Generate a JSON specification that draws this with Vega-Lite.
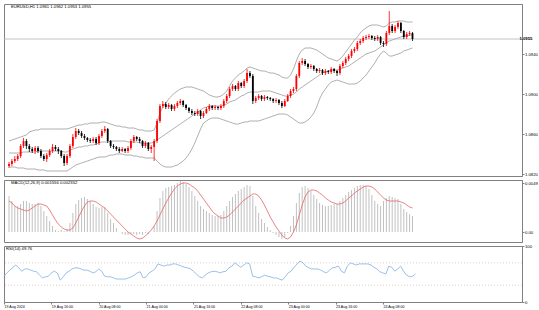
{
  "$schema": "https://vega.github.io/schema/vega-lite/v6.json",
  "padding": {"left": 1, "top": 3, "right": 0, "bottom": 0},
  "background": "#ffffff",
  "bounds": "flush",
  "config": {
    "font": "Liberation Sans",
    "view": {"stroke": "#808080", "strokeWidth": 1},
    "axis": {"grid": false, "domainColor": "#808080", "tickColor": "#808080", "tickSize": 2, "labelFontSize": 4.2, "labelColor": "#000000", "labelPadding": 0.5, "labelOverlap": false, "labelBound": false, "title": null}
  },
  "spacing": 4,
  "datasets": {
    "d": [
      {"i":0,"o":1.0828,"h":1.0832,"l":1.0826,"c":1.0830,"u":1.0853,"a":1.0841,"b":1.0827,"m":0.0036,"s":0.0031,"r":46},
      {"i":1,"o":1.0830,"h":1.0835,"l":1.0828,"c":1.0833,"u":1.0854,"a":1.0841,"b":1.0827,"m":0.0031,"s":0.0029,"r":52},
      {"i":2,"o":1.0833,"h":1.0838,"l":1.0831,"c":1.0835,"u":1.0855,"a":1.0841,"b":1.0827,"m":0.0026,"s":0.0026,"r":57},
      {"i":3,"o":1.0835,"h":1.0840,"l":1.0833,"c":1.0838,"u":1.0856,"a":1.0841,"b":1.0826,"m":0.0026,"s":0.0024,"r":62},
      {"i":4,"o":1.0838,"h":1.0850,"l":1.0836,"c":1.0848,"u":1.0857,"a":1.0841,"b":1.0826,"m":0.0028,"s":0.0023,"r":66},
      {"i":5,"o":1.0848,"h":1.0856,"l":1.0846,"c":1.0853,"u":1.0858,"a":1.0842,"b":1.0826,"m":0.0031,"s":0.0022,"r":61},
      {"i":6,"o":1.0853,"h":1.0855,"l":1.0845,"c":1.0848,"u":1.0859,"a":1.0842,"b":1.0825,"m":0.0031,"s":0.0021,"r":55},
      {"i":7,"o":1.0848,"h":1.0850,"l":1.0842,"c":1.0845,"u":1.0862,"a":1.0842,"b":1.0825,"m":0.0029,"s":0.0022,"r":59},
      {"i":8,"o":1.0845,"h":1.0847,"l":1.0841,"c":1.0843,"u":1.0863,"a":1.0842,"b":1.0825,"m":0.0028,"s":0.0024,"r":59},
      {"i":9,"o":1.0843,"h":1.0848,"l":1.0840,"c":1.0846,"u":1.0864,"a":1.0842,"b":1.0825,"m":0.0028,"s":0.0026,"r":57},
      {"i":10,"o":1.0846,"h":1.0848,"l":1.0841,"c":1.0843,"u":1.0864,"a":1.0843,"b":1.0824,"m":0.0029,"s":0.0028,"r":55},
      {"i":11,"o":1.0843,"h":1.0845,"l":1.0836,"c":1.0838,"u":1.0865,"a":1.0843,"b":1.0824,"m":0.0026,"s":0.0028,"r":54},
      {"i":12,"o":1.0838,"h":1.0840,"l":1.0833,"c":1.0835,"u":1.0865,"a":1.0843,"b":1.0824,"m":0.0021,"s":0.0027,"r":48},
      {"i":13,"o":1.0835,"h":1.0841,"l":1.0832,"c":1.0839,"u":1.0865,"a":1.0843,"b":1.0823,"m":0.0016,"s":0.0026,"r":43},
      {"i":14,"o":1.0839,"h":1.0845,"l":1.0837,"c":1.0843,"u":1.0865,"a":1.0843,"b":1.0823,"m":0.0011,"s":0.0022,"r":45},
      {"i":15,"o":1.0843,"h":1.0850,"l":1.0841,"c":1.0847,"u":1.0865,"a":1.0843,"b":1.0823,"m":0.0006,"s":0.0017,"r":46},
      {"i":16,"o":1.0847,"h":1.0849,"l":1.0843,"c":1.0845,"u":1.0865,"a":1.0843,"b":1.0823,"m":0.0002,"s":0.0012,"r":52},
      {"i":17,"o":1.0845,"h":1.0847,"l":1.0840,"c":1.0843,"u":1.0865,"a":1.0843,"b":1.0823,"m":0.0001,"s":0.0008,"r":55},
      {"i":18,"o":1.0843,"h":1.0844,"l":1.0836,"c":1.0838,"u":1.0865,"a":1.0843,"b":1.0823,"m":0.0002,"s":0.0005,"r":52},
      {"i":19,"o":1.0838,"h":1.0840,"l":1.0828,"c":1.0831,"u":1.0865,"a":1.0842,"b":1.0823,"m":0.0001,"s":0.0003,"r":39},
      {"i":20,"o":1.0831,"h":1.0840,"l":1.0829,"c":1.0838,"u":1.0865,"a":1.0842,"b":1.0823,"m":0.0003,"s":0.0002,"r":45},
      {"i":21,"o":1.0838,"h":1.0850,"l":1.0836,"c":1.0848,"u":1.0866,"a":1.0844,"b":1.0825,"m":0.0009,"s":0.0002,"r":52},
      {"i":22,"o":1.0848,"h":1.0860,"l":1.0846,"c":1.0857,"u":1.0867,"a":1.0845,"b":1.0827,"m":0.0019,"s":0.0004,"r":55},
      {"i":23,"o":1.0857,"h":1.0866,"l":1.0855,"c":1.0863,"u":1.0868,"a":1.0846,"b":1.0829,"m":0.0028,"s":0.0009,"r":59},
      {"i":24,"o":1.0863,"h":1.0865,"l":1.0859,"c":1.0861,"u":1.0869,"a":1.0847,"b":1.0830,"m":0.0032,"s":0.0015,"r":61},
      {"i":25,"o":1.0861,"h":1.0863,"l":1.0856,"c":1.0858,"u":1.0869,"a":1.0847,"b":1.0831,"m":0.0034,"s":0.0021,"r":61},
      {"i":26,"o":1.0858,"h":1.0860,"l":1.0854,"c":1.0856,"u":1.0870,"a":1.0848,"b":1.0832,"m":0.0035,"s":0.0026,"r":59},
      {"i":27,"o":1.0856,"h":1.0857,"l":1.0852,"c":1.0854,"u":1.0870,"a":1.0848,"b":1.0833,"m":0.0033,"s":0.0030,"r":57},
      {"i":28,"o":1.0854,"h":1.0856,"l":1.0851,"c":1.0853,"u":1.0871,"a":1.0849,"b":1.0834,"m":0.0031,"s":0.0031,"r":57},
      {"i":29,"o":1.0853,"h":1.0857,"l":1.0851,"c":1.0855,"u":1.0871,"a":1.0849,"b":1.0835,"m":0.0028,"s":0.0031,"r":55},
      {"i":30,"o":1.0855,"h":1.0857,"l":1.0849,"c":1.0851,"u":1.0871,"a":1.0850,"b":1.0836,"m":0.0025,"s":0.0030,"r":52},
      {"i":31,"o":1.0851,"h":1.0860,"l":1.0849,"c":1.0858,"u":1.0871,"a":1.0851,"b":1.0837,"m":0.0024,"s":0.0028,"r":54},
      {"i":32,"o":1.0858,"h":1.0865,"l":1.0856,"c":1.0863,"u":1.0872,"a":1.0852,"b":1.0837,"m":0.0025,"s":0.0026,"r":59},
      {"i":33,"o":1.0863,"h":1.0868,"l":1.0861,"c":1.0865,"u":1.0872,"a":1.0852,"b":1.0837,"m":0.0025,"s":0.0024,"r":55},
      {"i":34,"o":1.0865,"h":1.0866,"l":1.0851,"c":1.0853,"u":1.0871,"a":1.0852,"b":1.0838,"m":0.0019,"s":0.0021,"r":46},
      {"i":35,"o":1.0853,"h":1.0854,"l":1.0846,"c":1.0848,"u":1.0870,"a":1.0853,"b":1.0839,"m":0.0013,"s":0.0018,"r":45},
      {"i":36,"o":1.0848,"h":1.0850,"l":1.0845,"c":1.0847,"u":1.0869,"a":1.0853,"b":1.0839,"m":0.0009,"s":0.0015,"r":45},
      {"i":37,"o":1.0847,"h":1.0848,"l":1.0843,"c":1.0845,"u":1.0868,"a":1.0853,"b":1.0840,"m":0.0004,"s":0.0012,"r":43},
      {"i":38,"o":1.0845,"h":1.0847,"l":1.0841,"c":1.0843,"u":1.0868,"a":1.0853,"b":1.0840,"m":0.0000,"s":0.0009,"r":41},
      {"i":39,"o":1.0843,"h":1.0847,"l":1.0842,"c":1.0845,"u":1.0867,"a":1.0853,"b":1.0840,"m":-0.0002,"s":0.0006,"r":41},
      {"i":40,"o":1.0845,"h":1.0846,"l":1.0841,"c":1.0843,"u":1.0867,"a":1.0853,"b":1.0839,"m":-0.0003,"s":0.0003,"r":41},
      {"i":41,"o":1.0843,"h":1.0848,"l":1.0841,"c":1.0846,"u":1.0866,"a":1.0852,"b":1.0839,"m":-0.0003,"s":0.0000,"r":41},
      {"i":42,"o":1.0846,"h":1.0855,"l":1.0844,"c":1.0853,"u":1.0866,"a":1.0852,"b":1.0839,"m":-0.0002,"s":-0.0002,"r":43},
      {"i":43,"o":1.0853,"h":1.0859,"l":1.0851,"c":1.0857,"u":1.0866,"a":1.0852,"b":1.0838,"m":-0.0002,"s":-0.0004,"r":45},
      {"i":44,"o":1.0857,"h":1.0858,"l":1.0853,"c":1.0855,"u":1.0865,"a":1.0852,"b":1.0838,"m":-0.0003,"s":-0.0006,"r":48},
      {"i":45,"o":1.0855,"h":1.0857,"l":1.0851,"c":1.0853,"u":1.0864,"a":1.0851,"b":1.0837,"m":-0.0002,"s":-0.0007,"r":52},
      {"i":46,"o":1.0853,"h":1.0854,"l":1.0846,"c":1.0848,"u":1.0864,"a":1.0851,"b":1.0837,"m":-0.0003,"s":-0.0006,"r":54},
      {"i":47,"o":1.0848,"h":1.0853,"l":1.0846,"c":1.0851,"u":1.0863,"a":1.0851,"b":1.0836,"m":-0.0001,"s":-0.0004,"r":43},
      {"i":48,"o":1.0851,"h":1.0852,"l":1.0843,"c":1.0845,"u":1.0863,"a":1.0851,"b":1.0836,"m":-0.0002,"s":-0.0001,"r":45},
      {"i":49,"o":1.0845,"h":1.0849,"l":1.0841,"c":1.0847,"u":1.0863,"a":1.0851,"b":1.0836,"m":0.0000,"s":0.0002,"r":52},
      {"i":50,"o":1.0847,"h":1.0855,"l":1.0833,"c":1.0853,"u":1.0864,"a":1.0852,"b":1.0836,"m":0.0006,"s":0.0006,"r":55},
      {"i":51,"o":1.0853,"h":1.0875,"l":1.0851,"c":1.0873,"u":1.0871,"a":1.0854,"b":1.0833,"m":0.0021,"s":0.0011,"r":59},
      {"i":52,"o":1.0873,"h":1.0890,"l":1.0871,"c":1.0888,"u":1.0881,"a":1.0856,"b":1.0830,"m":0.0034,"s":0.0017,"r":68},
      {"i":53,"o":1.0888,"h":1.0893,"l":1.0886,"c":1.0890,"u":1.0887,"a":1.0858,"b":1.0828,"m":0.0041,"s":0.0023,"r":66},
      {"i":54,"o":1.0890,"h":1.0892,"l":1.0885,"c":1.0887,"u":1.0891,"a":1.0860,"b":1.0827,"m":0.0044,"s":0.0029,"r":64},
      {"i":55,"o":1.0887,"h":1.0891,"l":1.0885,"c":1.0889,"u":1.0895,"a":1.0862,"b":1.0827,"m":0.0045,"s":0.0034,"r":66},
      {"i":56,"o":1.0889,"h":1.0890,"l":1.0883,"c":1.0885,"u":1.0898,"a":1.0864,"b":1.0827,"m":0.0046,"s":0.0039,"r":66},
      {"i":57,"o":1.0885,"h":1.0890,"l":1.0883,"c":1.0888,"u":1.0901,"a":1.0866,"b":1.0828,"m":0.0047,"s":0.0043,"r":68},
      {"i":58,"o":1.0888,"h":1.0893,"l":1.0886,"c":1.0891,"u":1.0903,"a":1.0868,"b":1.0829,"m":0.0049,"s":0.0046,"r":68},
      {"i":59,"o":1.0891,"h":1.0895,"l":1.0889,"c":1.0893,"u":1.0905,"a":1.0870,"b":1.0831,"m":0.0051,"s":0.0048,"r":66},
      {"i":60,"o":1.0893,"h":1.0894,"l":1.0887,"c":1.0889,"u":1.0906,"a":1.0872,"b":1.0833,"m":0.0050,"s":0.0049,"r":64},
      {"i":61,"o":1.0889,"h":1.0890,"l":1.0884,"c":1.0886,"u":1.0907,"a":1.0874,"b":1.0836,"m":0.0048,"s":0.0049,"r":62},
      {"i":62,"o":1.0886,"h":1.0887,"l":1.0881,"c":1.0883,"u":1.0907,"a":1.0876,"b":1.0840,"m":0.0045,"s":0.0048,"r":61},
      {"i":63,"o":1.0883,"h":1.0885,"l":1.0879,"c":1.0881,"u":1.0907,"a":1.0878,"b":1.0845,"m":0.0041,"s":0.0046,"r":59},
      {"i":64,"o":1.0881,"h":1.0883,"l":1.0878,"c":1.0880,"u":1.0906,"a":1.0880,"b":1.0851,"m":0.0036,"s":0.0044,"r":55},
      {"i":65,"o":1.0880,"h":1.0885,"l":1.0878,"c":1.0883,"u":1.0905,"a":1.0882,"b":1.0858,"m":0.0031,"s":0.0041,"r":50},
      {"i":66,"o":1.0883,"h":1.0884,"l":1.0875,"c":1.0878,"u":1.0904,"a":1.0884,"b":1.0865,"m":0.0026,"s":0.0037,"r":45},
      {"i":67,"o":1.0878,"h":1.0883,"l":1.0876,"c":1.0881,"u":1.0903,"a":1.0886,"b":1.0871,"m":0.0023,"s":0.0033,"r":43},
      {"i":68,"o":1.0881,"h":1.0887,"l":1.0880,"c":1.0885,"u":1.0901,"a":1.0887,"b":1.0873,"m":0.0021,"s":0.0029,"r":48},
      {"i":69,"o":1.0885,"h":1.0890,"l":1.0883,"c":1.0888,"u":1.0899,"a":1.0888,"b":1.0875,"m":0.0019,"s":0.0025,"r":52},
      {"i":70,"o":1.0888,"h":1.0889,"l":1.0884,"c":1.0886,"u":1.0898,"a":1.0888,"b":1.0876,"m":0.0017,"s":0.0021,"r":54},
      {"i":71,"o":1.0886,"h":1.0889,"l":1.0884,"c":1.0887,"u":1.0897,"a":1.0888,"b":1.0876,"m":0.0016,"s":0.0018,"r":55},
      {"i":72,"o":1.0887,"h":1.0888,"l":1.0884,"c":1.0886,"u":1.0897,"a":1.0888,"b":1.0876,"m":0.0016,"s":0.0016,"r":54},
      {"i":73,"o":1.0886,"h":1.0890,"l":1.0884,"c":1.0888,"u":1.0898,"a":1.0888,"b":1.0875,"m":0.0017,"s":0.0014,"r":52},
      {"i":74,"o":1.0888,"h":1.0895,"l":1.0886,"c":1.0893,"u":1.0900,"a":1.0889,"b":1.0874,"m":0.0021,"s":0.0014,"r":54},
      {"i":75,"o":1.0893,"h":1.0900,"l":1.0891,"c":1.0898,"u":1.0903,"a":1.0890,"b":1.0873,"m":0.0026,"s":0.0015,"r":55},
      {"i":76,"o":1.0898,"h":1.0907,"l":1.0896,"c":1.0905,"u":1.0908,"a":1.0892,"b":1.0872,"m":0.0031,"s":0.0017,"r":61},
      {"i":77,"o":1.0905,"h":1.0910,"l":1.0903,"c":1.0908,"u":1.0913,"a":1.0893,"b":1.0871,"m":0.0035,"s":0.0020,"r":64},
      {"i":78,"o":1.0908,"h":1.0909,"l":1.0903,"c":1.0905,"u":1.0916,"a":1.0894,"b":1.0870,"m":0.0038,"s":0.0023,"r":70},
      {"i":79,"o":1.0905,"h":1.0913,"l":1.0903,"c":1.0911,"u":1.0919,"a":1.0896,"b":1.0870,"m":0.0041,"s":0.0026,"r":66},
      {"i":80,"o":1.0911,"h":1.0912,"l":1.0906,"c":1.0908,"u":1.0921,"a":1.0898,"b":1.0871,"m":0.0043,"s":0.0029,"r":62},
      {"i":81,"o":1.0908,"h":1.0915,"l":1.0906,"c":1.0913,"u":1.0923,"a":1.0899,"b":1.0872,"m":0.0045,"s":0.0032,"r":66},
      {"i":82,"o":1.0913,"h":1.0925,"l":1.0911,"c":1.0921,"u":1.0926,"a":1.0901,"b":1.0872,"m":0.0047,"s":0.0034,"r":70},
      {"i":83,"o":1.0921,"h":1.0923,"l":1.0916,"c":1.0918,"u":1.0927,"a":1.0902,"b":1.0873,"m":0.0046,"s":0.0036,"r":68},
      {"i":84,"o":1.0918,"h":1.0920,"l":1.0890,"c":1.0893,"u":1.0926,"a":1.0902,"b":1.0873,"m":0.0036,"s":0.0038,"r":46},
      {"i":85,"o":1.0893,"h":1.0898,"l":1.0891,"c":1.0896,"u":1.0925,"a":1.0902,"b":1.0873,"m":0.0026,"s":0.0038,"r":45},
      {"i":86,"o":1.0896,"h":1.0900,"l":1.0894,"c":1.0898,"u":1.0924,"a":1.0902,"b":1.0873,"m":0.0019,"s":0.0036,"r":43},
      {"i":87,"o":1.0898,"h":1.0899,"l":1.0893,"c":1.0895,"u":1.0923,"a":1.0903,"b":1.0874,"m":0.0013,"s":0.0032,"r":45},
      {"i":88,"o":1.0895,"h":1.0899,"l":1.0893,"c":1.0897,"u":1.0923,"a":1.0903,"b":1.0875,"m":0.0009,"s":0.0027,"r":48},
      {"i":89,"o":1.0897,"h":1.0898,"l":1.0894,"c":1.0896,"u":1.0922,"a":1.0903,"b":1.0876,"m":0.0005,"s":0.0021,"r":46},
      {"i":90,"o":1.0896,"h":1.0897,"l":1.0893,"c":1.0895,"u":1.0921,"a":1.0903,"b":1.0877,"m":0.0002,"s":0.0015,"r":45},
      {"i":91,"o":1.0895,"h":1.0896,"l":1.0891,"c":1.0893,"u":1.0921,"a":1.0902,"b":1.0878,"m":-0.0001,"s":0.0010,"r":43},
      {"i":92,"o":1.0893,"h":1.0896,"l":1.0891,"c":1.0894,"u":1.0920,"a":1.0901,"b":1.0879,"m":-0.0003,"s":0.0005,"r":43},
      {"i":93,"o":1.0894,"h":1.0895,"l":1.0889,"c":1.0891,"u":1.0919,"a":1.0900,"b":1.0880,"m":-0.0005,"s":0.0001,"r":41},
      {"i":94,"o":1.0891,"h":1.0893,"l":1.0886,"c":1.0888,"u":1.0917,"a":1.0899,"b":1.0880,"m":-0.0007,"s":-0.0003,"r":39},
      {"i":95,"o":1.0888,"h":1.0895,"l":1.0887,"c":1.0893,"u":1.0916,"a":1.0898,"b":1.0880,"m":-0.0005,"s":-0.0006,"r":45},
      {"i":96,"o":1.0893,"h":1.0900,"l":1.0892,"c":1.0898,"u":1.0916,"a":1.0898,"b":1.0879,"m":-0.0001,"s":-0.0007,"r":52},
      {"i":97,"o":1.0898,"h":1.0905,"l":1.0896,"c":1.0903,"u":1.0919,"a":1.0899,"b":1.0877,"m":0.0006,"s":-0.0005,"r":55},
      {"i":98,"o":1.0903,"h":1.0907,"l":1.0901,"c":1.0905,"u":1.0925,"a":1.0900,"b":1.0875,"m":0.0016,"s":0.0000,"r":62},
      {"i":99,"o":1.0905,"h":1.0920,"l":1.0903,"c":1.0918,"u":1.0933,"a":1.0902,"b":1.0873,"m":0.0029,"s":0.0007,"r":68},
      {"i":100,"o":1.0918,"h":1.0933,"l":1.0916,"c":1.0931,"u":1.0940,"a":1.0905,"b":1.0871,"m":0.0039,"s":0.0017,"r":73},
      {"i":101,"o":1.0931,"h":1.0936,"l":1.0929,"c":1.0933,"u":1.0944,"a":1.0907,"b":1.0871,"m":0.0045,"s":0.0027,"r":70},
      {"i":102,"o":1.0933,"h":1.0935,"l":1.0928,"c":1.0930,"u":1.0946,"a":1.0909,"b":1.0872,"m":0.0046,"s":0.0035,"r":64},
      {"i":103,"o":1.0930,"h":1.0931,"l":1.0925,"c":1.0927,"u":1.0946,"a":1.0911,"b":1.0874,"m":0.0044,"s":0.0040,"r":61},
      {"i":104,"o":1.0927,"h":1.0930,"l":1.0925,"c":1.0928,"u":1.0946,"a":1.0913,"b":1.0877,"m":0.0041,"s":0.0042,"r":59},
      {"i":105,"o":1.0928,"h":1.0929,"l":1.0923,"c":1.0925,"u":1.0945,"a":1.0915,"b":1.0881,"m":0.0037,"s":0.0042,"r":59},
      {"i":106,"o":1.0925,"h":1.0926,"l":1.0921,"c":1.0923,"u":1.0944,"a":1.0917,"b":1.0887,"m":0.0033,"s":0.0041,"r":59},
      {"i":107,"o":1.0923,"h":1.0926,"l":1.0921,"c":1.0924,"u":1.0942,"a":1.0919,"b":1.0895,"m":0.0029,"s":0.0039,"r":57},
      {"i":108,"o":1.0924,"h":1.0925,"l":1.0919,"c":1.0921,"u":1.0940,"a":1.0921,"b":1.0901,"m":0.0027,"s":0.0037,"r":54},
      {"i":109,"o":1.0921,"h":1.0925,"l":1.0919,"c":1.0923,"u":1.0938,"a":1.0922,"b":1.0905,"m":0.0026,"s":0.0034,"r":52},
      {"i":110,"o":1.0923,"h":1.0924,"l":1.0920,"c":1.0922,"u":1.0936,"a":1.0923,"b":1.0909,"m":0.0026,"s":0.0032,"r":57},
      {"i":111,"o":1.0922,"h":1.0927,"l":1.0920,"c":1.0925,"u":1.0935,"a":1.0924,"b":1.0912,"m":0.0027,"s":0.0030,"r":61},
      {"i":112,"o":1.0925,"h":1.0926,"l":1.0921,"c":1.0923,"u":1.0934,"a":1.0924,"b":1.0913,"m":0.0028,"s":0.0029,"r":62},
      {"i":113,"o":1.0923,"h":1.0924,"l":1.0918,"c":1.0921,"u":1.0933,"a":1.0924,"b":1.0914,"m":0.0028,"s":0.0028,"r":64},
      {"i":114,"o":1.0921,"h":1.0930,"l":1.0919,"c":1.0928,"u":1.0935,"a":1.0925,"b":1.0913,"m":0.0031,"s":0.0028,"r":55},
      {"i":115,"o":1.0928,"h":1.0933,"l":1.0926,"c":1.0931,"u":1.0938,"a":1.0926,"b":1.0912,"m":0.0034,"s":0.0029,"r":52},
      {"i":116,"o":1.0931,"h":1.0937,"l":1.0929,"c":1.0935,"u":1.0942,"a":1.0927,"b":1.0911,"m":0.0037,"s":0.0031,"r":64},
      {"i":117,"o":1.0935,"h":1.0940,"l":1.0933,"c":1.0938,"u":1.0946,"a":1.0928,"b":1.0910,"m":0.0040,"s":0.0034,"r":70},
      {"i":118,"o":1.0938,"h":1.0945,"l":1.0936,"c":1.0943,"u":1.0950,"a":1.0930,"b":1.0910,"m":0.0042,"s":0.0036,"r":68},
      {"i":119,"o":1.0943,"h":1.0947,"l":1.0941,"c":1.0945,"u":1.0954,"a":1.0932,"b":1.0910,"m":0.0044,"s":0.0039,"r":66},
      {"i":120,"o":1.0945,"h":1.0953,"l":1.0943,"c":1.0951,"u":1.0957,"a":1.0934,"b":1.0911,"m":0.0046,"s":0.0041,"r":68},
      {"i":121,"o":1.0951,"h":1.0955,"l":1.0949,"c":1.0953,"u":1.0961,"a":1.0936,"b":1.0913,"m":0.0047,"s":0.0043,"r":68},
      {"i":122,"o":1.0953,"h":1.0958,"l":1.0951,"c":1.0956,"u":1.0964,"a":1.0938,"b":1.0916,"m":0.0047,"s":0.0045,"r":68},
      {"i":123,"o":1.0956,"h":1.0959,"l":1.0954,"c":1.0957,"u":1.0966,"a":1.0940,"b":1.0919,"m":0.0046,"s":0.0046,"r":68},
      {"i":124,"o":1.0957,"h":1.0960,"l":1.0955,"c":1.0958,"u":1.0968,"a":1.0941,"b":1.0923,"m":0.0043,"s":0.0046,"r":66},
      {"i":125,"o":1.0958,"h":1.0959,"l":1.0954,"c":1.0956,"u":1.0969,"a":1.0942,"b":1.0927,"m":0.0037,"s":0.0045,"r":62},
      {"i":126,"o":1.0956,"h":1.0958,"l":1.0953,"c":1.0955,"u":1.0969,"a":1.0943,"b":1.0931,"m":0.0031,"s":0.0043,"r":59},
      {"i":127,"o":1.0955,"h":1.0959,"l":1.0953,"c":1.0957,"u":1.0969,"a":1.0945,"b":1.0936,"m":0.0028,"s":0.0040,"r":54},
      {"i":128,"o":1.0957,"h":1.0958,"l":1.0949,"c":1.0951,"u":1.0968,"a":1.0947,"b":1.0940,"m":0.0026,"s":0.0037,"r":52},
      {"i":129,"o":1.0951,"h":1.0953,"l":1.0947,"c":1.0950,"u":1.0967,"a":1.0949,"b":1.0943,"m":0.0031,"s":0.0034,"r":50},
      {"i":130,"o":1.0950,"h":1.0963,"l":1.0948,"c":1.0961,"u":1.0968,"a":1.0951,"b":1.0941,"m":0.0034,"s":0.0032,"r":64},
      {"i":131,"o":1.0961,"h":1.0983,"l":1.0959,"c":1.0968,"u":1.0971,"a":1.0953,"b":1.0938,"m":0.0036,"s":0.0031,"r":62},
      {"i":132,"o":1.0968,"h":1.0970,"l":1.0961,"c":1.0963,"u":1.0972,"a":1.0954,"b":1.0938,"m":0.0035,"s":0.0031,"r":55},
      {"i":133,"o":1.0963,"h":1.0969,"l":1.0961,"c":1.0967,"u":1.0972,"a":1.0955,"b":1.0939,"m":0.0034,"s":0.0031,"r":59},
      {"i":134,"o":1.0967,"h":1.0973,"l":1.0965,"c":1.0971,"u":1.0973,"a":1.0956,"b":1.0940,"m":0.0033,"s":0.0031,"r":64},
      {"i":135,"o":1.0971,"h":1.0972,"l":1.0961,"c":1.0963,"u":1.0973,"a":1.0957,"b":1.0941,"m":0.0028,"s":0.0030,"r":55},
      {"i":136,"o":1.0963,"h":1.0964,"l":1.0955,"c":1.0957,"u":1.0973,"a":1.0958,"b":1.0943,"m":0.0023,"s":0.0029,"r":48},
      {"i":137,"o":1.0957,"h":1.0962,"l":1.0955,"c":1.0960,"u":1.0972,"a":1.0958,"b":1.0944,"m":0.0020,"s":0.0027,"r":45},
      {"i":138,"o":1.0960,"h":1.0963,"l":1.0958,"c":1.0961,"u":1.0972,"a":1.0959,"b":1.0945,"m":0.0018,"s":0.0025,"r":46},
      {"i":139,"o":1.0961,"h":1.0962,"l":1.0953,"c":1.0955,"u":1.0972,"a":1.0959,"b":1.0946,"m":0.0016,"s":0.0024,"r":50}
    ]
  },
  "data": {"name": "d"},
  "vconcat": [
    {
      "width": 518,
      "height": 172,
      "layer": [
        {"mark": {"type": "line", "color": "#9a9a9a", "strokeWidth": 0.8}, "encoding": {
          "x": {"field": "i", "type": "quantitative", "scale": {"domain": [0, 175], "nice": false, "zero": false}, "axis": null},
          "y": {"field": "u", "type": "quantitative", "scale": {"domain": [1.0818, 1.0990], "nice": false, "zero": false}, "axis": {"orient": "right", "labelOverlap": false, "values": [1.082,1.083,1.084,1.085,1.086,1.087,1.088,1.089,1.09,1.091,1.092,1.093,1.094,1.096,1.097,1.098], "labelExpr": "format(datum.value, '.4f')"}}}},
        {"mark": {"type": "line", "color": "#9a9a9a", "strokeWidth": 0.8}, "encoding": {"x": {"field": "i", "type": "quantitative"}, "y": {"field": "a", "type": "quantitative"}}},
        {"mark": {"type": "line", "color": "#9a9a9a", "strokeWidth": 0.8}, "encoding": {"x": {"field": "i", "type": "quantitative"}, "y": {"field": "b", "type": "quantitative"}}},
        {"data": {"values": [{}]}, "mark": {"type": "rule", "color": "#b4b4b4", "strokeWidth": 0.8}, "encoding": {"y": {"datum": 1.0955}}},
        {"mark": {"type": "rule", "strokeWidth": 0.8}, "encoding": {
          "x": {"field": "i", "type": "quantitative"},
          "y": {"field": "l", "type": "quantitative"}, "y2": {"field": "h"},
          "color": {"condition": {"test": "datum.c >= datum.o", "value": "#ff0000"}, "value": "#000000"}}},
        {"mark": {"type": "bar", "size": 1.8}, "encoding": {
          "x": {"field": "i", "type": "quantitative"},
          "y": {"field": "o", "type": "quantitative"}, "y2": {"field": "c"},
          "color": {"condition": {"test": "datum.c >= datum.o", "value": "#ff0000"}, "value": "#000000"}}},
        {"data": {"values": [{}]}, "mark": {"type": "text", "fontSize": 4.2, "fontWeight": "bold", "color": "#000000", "align": "left", "dx": 2.5}, "encoding": {"x": {"datum": 175}, "y": {"datum": 1.0955}, "text": {"value": "1.0955"}}},
        {"data": {"values": [{}]}, "mark": {"type": "text", "fontSize": 4.2, "color": "#000000", "align": "left", "baseline": "top", "dx": 2, "dy": 1}, "encoding": {"x": {"datum": 0}, "y": {"datum": 1.0990}, "text": {"value": "EURUSD,H1  1.0961 1.0962 1.0953 1.0955"}}}
      ]
    },
    {
      "width": 518,
      "height": 62,
      "layer": [
        {"mark": {"type": "bar", "size": 1, "color": "#c0c0c0"}, "encoding": {
          "x": {"field": "i", "type": "quantitative", "scale": {"domain": [0, 175], "nice": false, "zero": false}, "axis": null},
          "y": {"field": "m", "type": "quantitative", "scale": {"domain": [-0.0010, 0.0052], "nice": false}, "axis": {"orient": "right", "labelOverlap": false, "values": [0, 0.0049], "labelExpr": "datum.value == 0 ? '0.00' : format(datum.value, '.4f')"}}}},
        {"mark": {"type": "line", "color": "#e36666", "strokeWidth": 0.8}, "encoding": {"x": {"field": "i", "type": "quantitative"}, "y": {"field": "s", "type": "quantitative"}}},
        {"data": {"values": [{}]}, "mark": {"type": "text", "fontSize": 4.2, "color": "#000000", "align": "left", "baseline": "top", "dx": 2, "dy": 1}, "encoding": {"x": {"datum": 0}, "y": {"datum": 0.0052}, "text": {"value": "MACD(12,26,9) 0.001556 0.002352"}}}
      ]
    },
    {
      "width": 518,
      "height": 56,
      "layer": [
        {"data": {"values": [{"lv": 70}, {"lv": 30}]}, "mark": {"type": "rule", "color": "#d8c0c0", "strokeWidth": 0.8, "strokeDash": [1, 2]}, "encoding": {"y": {"field": "lv", "type": "quantitative"}}},
        {"mark": {"type": "line", "color": "#8fb8e8", "strokeWidth": 0.9}, "encoding": {
          "x": {"field": "i", "type": "quantitative", "scale": {"domain": [0, 175], "nice": false, "zero": false},
                "axis": {"values": [0,8,16,24,32,40,48,56,64,72,80,88,96,104,112,120,128,136], "labelOverlap": false, "labelAlign": "left", "labelFontSize": 3.6, "tickSize": 2, "labelPadding": 0.5,
                         "labelExpr": "datum.value == 0 ? '19 Aug 2024' : utcFormat(1724025600000 + datum.value * 3600000, '%-d %b %H:%M')"}},
          "y": {"field": "r", "type": "quantitative", "scale": {"domain": [0, 100], "nice": false}, "axis": {"orient": "right", "labelOverlap": false, "values": [0, 30, 70, 100]}}}},
        {"data": {"values": [{}]}, "mark": {"type": "text", "fontSize": 4.2, "color": "#000000", "align": "left", "baseline": "top", "dx": 2, "dy": 1}, "encoding": {"x": {"datum": 0}, "y": {"datum": 100}, "text": {"value": "RSI(14) 49.76"}}}
      ]
    }
  ]
}
